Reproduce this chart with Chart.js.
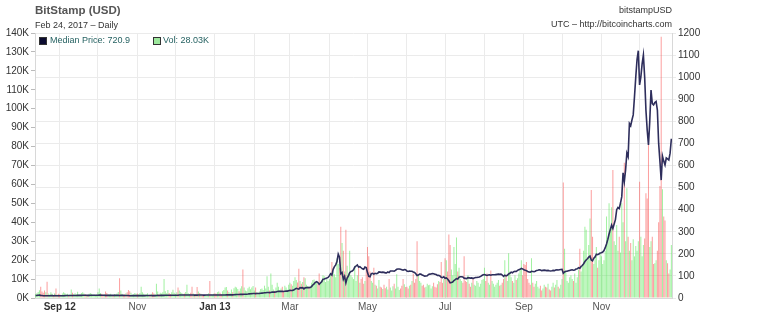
<!DOCTYPE html>
<html lang="en">
<head>
  <meta charset="UTF-8">
  <title>BitStamp (USD)</title>
  <style>
    html, body {
      margin: 0;
      padding: 0;
      background: #fff;
    }
    body {
      font-family: "Liberation Sans", Arial, sans-serif;
    }
    .wrap {
      position: relative;
      width: 768px;
      height: 318px;
    }
    canvas {
      position: absolute;
      left: 0;
      top: 0;
    }
    .t {
      position: absolute;
      white-space: nowrap;
      line-height: 1;
      z-index: 2;
    }
    .sw {
      position: absolute;
      width: 6px;
      height: 6px;
      border: 1px solid #333;
      z-index: 2;
    }
  </style>
</head>
<body>
  <div class="wrap">
    <canvas id="chart" width="768" height="318"></canvas>
    <div class="t" style="left:35px; top:5px; font-size:11.5px; font-weight:bold; color:#555;">BitStamp (USD)</div>
    <div class="t" style="left:35px; top:21px; font-size:9px; color:#333;">Feb 24, 2017 – Daily</div>
    <div class="t" style="right:96px; top:6px; font-size:9px; color:#333;">bitstampUSD</div>
    <div class="t" style="right:96px; top:20px; font-size:9px; color:#333;">UTC – http://bitcoincharts.com</div>
    <div class="sw" style="left:39px; top:37px; background:#0c0c30;"></div>
    <div class="t" id="legPrice" style="left:50px; top:36px; font-size:9px; color:#266262;"></div>
    <div class="sw" style="left:153px; top:37px; background:#9de89d;"></div>
    <div class="t" id="legVol" style="left:163px; top:36px; font-size:9px; color:#266262;"></div>
  </div>

  <script src="https://cdn.jsdelivr.net/npm/chart.js@4.4.1/dist/chart.umd.min.js"></script>
  <script>
    // daily series, first day 2012-08-13, last day 2013-12-26
    const startDate = '2012-08-13';

    // median price, USD
    const price = [
      // Aug 2012 (from 13th)
      11.5, 11.7, 12.2, 13.0, 12.0, 11.5, 10.5, 10.0, 10.4, 9.9, 10.2, 10.5, 10.6, 10.8, 10.5, 10.6, 10.3, 10.5, 10.2,
      // Sep
      10.1, 10.2, 10.4, 10.5, 10.9, 11.0, 11.1, 11.0, 11.0, 11.3, 11.2, 11.3, 11.3, 11.5, 11.8, 11.9, 11.9, 12.1, 12.3, 12.3, 12.2, 12.2, 12.1, 12.1, 12.2, 12.3, 12.3, 12.4, 12.4, 12.4,
      // Oct
      12.5, 12.8, 12.9, 12.7, 12.6, 12.6, 11.9, 11.8, 11.8, 12.0, 12.0, 12.0, 11.8, 11.8, 11.8, 11.8, 11.9, 11.4, 11.7, 11.8, 11.7, 11.6, 11.6, 11.3, 11.0, 10.4, 10.5, 10.7, 10.9, 10.9, 11.2,
      // Nov
      10.6, 10.6, 10.6, 10.8, 10.8, 10.8, 10.9, 11.0, 11.0, 11.1, 11.0, 11.0, 10.9, 10.8, 10.9, 11.6, 11.8, 11.6, 11.7, 11.7, 11.7, 12.1, 12.2, 12.2, 12.4, 12.3, 12.2, 12.4, 12.5, 12.6,
      // Dec
      12.6, 12.6, 12.5, 13.3, 13.3, 13.4, 13.5, 13.3, 13.4, 13.6, 13.6, 13.6, 13.5, 13.3, 13.3, 13.2, 13.3, 13.2, 13.6, 13.5, 13.5, 13.4, 13.2, 13.2, 13.3, 13.4, 13.4, 13.3, 13.4, 13.4, 13.5,
      // Jan 2013
      13.4, 13.3, 13.4, 13.5, 13.4, 13.3, 13.5, 13.6, 13.9, 14.2, 14.1, 14.2, 14.2, 14.3, 14.2, 14.6, 15.3, 15.6, 15.8, 15.7, 16.5, 17.2, 16.6, 17.0, 17.1, 17.2, 17.8, 18.8, 19.2, 19.6, 20.4,
      // Feb
      20.4, 19.7, 20.5, 20.5, 20.7, 21.5, 22.1, 22.8, 23.7, 23.9, 24.6, 25.2, 24.4, 25.2, 26.8, 27.2, 26.6, 26.9, 29.4, 29.9, 29.9, 30.2, 29.9, 29.5, 30.4, 31.0, 31.2, 33.2,
      // Mar
      34.5, 34.3, 34.5, 36.1, 40.3, 44.0, 42.0, 40.5, 46.8, 46.0, 46.9, 41.5, 46.0, 46.9, 47.1, 47.0, 47.4, 51.6, 59.1, 64.0, 71.0, 74.0, 70.0, 62.0, 68.0, 74.0, 85.0, 86.0, 88.0, 90.0, 93.0,
      // Apr
      100, 110, 104, 130, 142, 150, 165, 199, 185, 110, 115, 85, 98, 68, 90, 100, 115, 120, 122, 128, 140, 145, 150, 140, 142, 137, 132, 130, 140, 138,
      // May
      115, 98, 96, 110, 112, 108, 112, 110, 112, 118, 117, 116, 117, 116, 114, 114, 118, 115, 122, 122, 122, 121, 125, 130, 131, 131, 130, 128, 126, 129, 128,
      // Jun
      122, 120, 122, 121, 121, 118, 116, 110, 102, 104, 108, 108, 104, 102, 99, 100, 101, 107, 108, 109, 111, 110, 108, 106, 102, 103, 100, 94, 92, 96,
      // Jul
      89, 91, 86, 78, 69, 70, 72, 79, 83, 88, 86, 94, 96, 96, 95, 90, 89, 88, 92, 91, 90, 91, 88, 91, 93, 93, 94, 95, 98, 102, 105,
      // Aug
      106, 104, 102, 104, 105, 103, 105, 105, 105, 106, 107, 108, 107, 108, 104, 98, 103, 100, 103, 109, 112, 117, 114, 119, 121, 120, 125, 128, 130, 134, 132,
      // Sep
      128, 126, 124, 120, 118, 117, 121, 120, 119, 121, 125, 126, 128, 127, 124, 125, 126, 125, 124, 125, 123, 122, 123, 125, 124, 127, 128, 127, 128, 129,
      // Oct
      130, 112, 118, 121, 121, 123, 125, 127, 128, 126, 127, 131, 132, 137, 135, 143, 147, 155, 165, 172, 178, 185, 190, 172, 168, 180, 186, 198, 196, 199, 204,
      // Nov
      205, 208, 215, 228, 245, 265, 290, 310, 330, 315, 335, 355, 400, 410, 405, 430, 459, 567, 527, 580, 656, 640, 790, 780, 806, 829, 912, 1000, 1080, 1120,
      // Dec (to 26th)
      965, 1000, 1060, 1100, 1000, 850, 760, 693, 800, 942, 880, 874, 885, 890, 851, 700, 620, 534, 643, 620, 602, 634, 630, 625, 656, 720.9
    ];

    // volume, thousands of BTC
    const volume = [
      // Aug 2012 (from 13th)
      2.1, 2.5, 3.2, 4.1, 6.0, 3.5, 2.8, 4.0, 3.1, 8.6, 2.4, 1.8, 3.0, 2.2, 1.6, 2.5, 5.0, 1.9, 2.3,
      // Sep
      2.0, 1.6, 2.4, 3.1, 2.6, 1.9, 2.2, 1.5, 1.8, 4.5, 2.8, 2.1, 2.5, 2.0, 3.3, 1.7, 1.9, 2.6, 3.0, 2.4, 2.0, 1.5, 1.6, 2.2, 2.7, 2.3, 1.9, 1.8, 1.4, 1.7,
      // Oct
      3.0, 5.0, 2.6, 2.2, 1.8, 2.0, 3.4, 2.7, 2.0, 1.9, 2.3, 1.6, 1.5, 2.1, 1.8, 2.4, 3.2, 10.5, 4.0, 2.2, 1.6, 2.0, 2.5, 3.1, 4.2, 3.6, 2.8, 1.7, 2.0, 2.6, 2.3,
      // Nov
      2.4, 2.0, 2.6, 6.0, 3.1, 2.2, 1.8, 2.0, 2.5, 1.6, 1.9, 2.2, 3.0, 2.4, 2.0, 7.5, 3.5, 2.1, 2.8, 2.4, 3.0, 10.0, 3.6, 2.5, 4.2, 2.6, 2.1, 3.0, 4.4, 2.8,
      // Dec
      2.2, 3.0, 5.5, 4.0, 3.1, 2.6, 2.0, 2.4, 3.2, 7.0, 2.5, 2.1, 2.8, 6.0, 2.4, 1.8, 2.0, 5.8, 3.4, 2.6, 2.2, 1.7, 1.5, 1.4, 1.6, 2.0, 2.5, 9.0, 1.8, 1.6, 2.2,
      // Jan 2013
      2.5, 2.2, 3.0, 3.4, 2.8, 2.0, 3.6, 4.2, 5.5, 5.8, 4.0, 3.2, 2.6, 4.5, 3.0, 5.2, 6.0, 5.5, 4.8, 3.6, 5.0, 6.2, 15.0, 5.5, 4.0, 3.6, 5.2, 6.0, 4.6, 5.5, 6.3,
      // Feb
      4.0, 5.5, 3.2, 2.8, 3.5, 4.8, 5.0, 4.2, 6.5, 5.0, 11.5, 6.0, 4.0, 13.0, 7.0, 4.5, 3.8, 5.5, 8.0, 6.0, 4.2, 5.0, 6.0, 3.8, 6.5, 5.5, 4.4, 7.0,
      // Mar
      8.0, 7.2, 6.5, 9.0, 11.0, 9.5, 8.2, 15.5, 9.0, 7.5, 8.4, 11.0, 10.5, 7.0, 6.4, 6.0, 6.5, 8.0, 9.5, 9.8, 8.5, 9.0, 7.2, 13.0, 8.0, 9.5, 12.0, 11.5, 8.5, 10.0, 9.0,
      // Apr
      10.0, 12.0, 19.0, 14.0, 12.5, 11.0, 21.0, 18.0, 16.0, 37.7, 29.0, 25.0, 14.0, 36.0, 17.0, 13.0, 25.0, 12.0, 11.0, 10.0, 17.0, 9.0, 12.0, 16.0, 8.0, 10.0, 11.0, 7.5, 9.0, 15.0,
      // May
      27.0, 22.0, 14.0, 9.0, 8.0, 16.0, 7.0, 6.5, 5.0, 9.5, 6.0, 5.5, 4.8, 7.0, 5.2, 6.0, 4.5, 10.0, 5.5, 4.0, 6.2, 7.5, 5.0, 12.5, 6.0, 4.2, 5.0, 6.5, 10.0, 7.2, 5.8,
      // Jun
      6.0, 5.0, 6.5, 7.0, 9.0, 13.0, 8.0, 10.0, 30.0, 12.0, 9.0, 8.0, 6.5, 7.0, 5.5, 6.0, 7.5, 6.8, 7.0, 5.0, 6.2, 8.0, 6.0, 5.5, 7.2, 9.0, 8.5, 19.0, 8.0, 10.0,
      // Jul
      21.0, 20.0, 14.0, 33.5, 28.0, 15.0, 12.0, 27.0, 18.0, 32.0, 14.0, 16.0, 10.0, 9.0, 8.0, 22.0, 9.0, 8.5, 12.0, 7.5, 6.0, 8.0, 10.0, 7.0, 6.5, 9.0, 8.0, 6.0, 7.5, 9.5, 10.0,
      // Aug
      16.0, 9.0, 13.0, 8.0, 7.0, 14.5, 9.0, 7.5, 6.0, 7.0, 8.0, 9.5, 6.5, 7.0, 8.0, 10.0, 20.0, 12.0, 9.0, 23.6, 14.0, 11.0, 9.0, 8.0, 12.0, 9.5, 10.5, 13.0, 15.0, 20.0, 12.0,
      // Sep
      18.0, 17.5, 19.0, 10.0, 8.0, 7.0, 21.0, 8.0, 6.0, 7.5, 9.0, 6.0, 5.0, 6.5, 4.0, 5.0, 7.0, 6.0, 5.5, 7.5, 4.5, 4.0, 6.0, 8.0, 5.5, 7.0, 9.5, 6.0, 5.0, 7.0,
      // Oct
      10, 61, 26, 14, 9, 8, 11, 12, 10, 9, 13, 8, 11, 15, 26, 14, 18, 25, 37.7, 36, 20, 28, 42, 57, 32.4, 18, 22, 27, 16, 20, 24,
      // Nov
      22, 18, 20, 25, 43, 30, 50, 35, 48, 67.6, 30, 28, 38.6, 25, 32.4, 24, 50, 40, 71.5, 30, 58, 32.4, 25, 29, 20, 31, 22, 27.5, 25, 30,
      // Dec (to 26th)
      61.4, 32.4, 22, 28, 31.5, 55.3, 52.6, 80.8, 27, 30, 32.4, 18, 18.3, 20, 25, 40, 59.2, 138, 57.4, 43, 41, 20, 18.3, 13, 15, 28.03
    ];

    // x axis: a grid line on every month start, a label on every other one
    const monthStarts = ['2012-09-01', '2012-10-01', '2012-11-01', '2012-12-01', '2013-01-01', '2013-02-01',
      '2013-03-01', '2013-04-01', '2013-05-01', '2013-06-01', '2013-07-01', '2013-08-01',
      '2013-09-01', '2013-10-01', '2013-11-01', '2013-12-01'];
    const monthLabels = ['Sep 12', '', 'Nov', '', 'Jan 13', '', 'Mar', '', 'May', '', 'Jul', '', 'Sep', '', 'Nov', ''];
    const boldLabels = ['Sep 12', 'Jan 13'];

    function dayNum(s) {
      return Date.parse(s + 'T00:00:00Z') / 86400000;
    }

    const day0 = dayNum(startDate);
    const tickDays = monthStarts.map(dayNum);

    const pricePts = price.map((p, i) => ({ x: day0 + i, y: p }));
    const volPts = volume.map((v, i) => ({ x: day0 + i, y: v }));
    const barColors = volume.map((v, i) =>
      (i === 0 || price[i] >= price[i - 1]) ? 'rgba(85, 230, 85, 0.55)' : 'rgba(250, 80, 80, 0.55)');

    document.getElementById('legPrice').textContent = 'Median Price: ' + price[price.length - 1];
    document.getElementById('legVol').textContent = 'Vol: ' + volume[volume.length - 1].toFixed(2) + 'K';

    const tickFont = { family: 'Liberation Sans', size: 10 };

    const ctx = document.getElementById('chart').getContext('2d');
    new Chart(ctx, {
      type: 'bar',
      data: {
        datasets: [{
          type: 'line',
          label: 'Median Price',
          data: pricePts,
          yAxisID: 'yPrice',
          borderColor: '#2e2e5c',
          borderWidth: 1.6,
          pointRadius: 0,
          tension: 0
        }, {
          type: 'bar',
          label: 'Vol',
          data: volPts,
          yAxisID: 'yVol',
          backgroundColor: barColors,
          borderWidth: 0,
          categoryPercentage: 0.8,
          barPercentage: 1.0
        }]
      },
      options: {
        responsive: false,
        animation: false,
        layout: { padding: { top: 33, left: 0, right: 0, bottom: 0 } },
        plugins: {
          legend: { display: false },
          tooltip: { enabled: false }
        },
        scales: {
          x: {
            type: 'linear',
            min: day0 - 0.5,
            max: day0 + price.length - 0.5,
            offset: false,
            afterBuildTicks: axis => {
              axis.ticks = tickDays.map(v => ({ value: v }));
            },
            afterFit: axis => { axis.height = 20; },
            ticks: {
              autoSkip: false,
              maxRotation: 0,
              padding: 3,
              callback: (value, index) => monthLabels[index],
              color: c => boldLabels.includes(monthLabels[c.index]) ? '#333' : '#555',
              font: c => ({
                family: 'Liberation Sans',
                size: 10,
                weight: boldLabels.includes(monthLabels[c.index]) ? 'bold' : 'normal'
              })
            },
            grid: { color: '#ebebeb', drawTicks: false, offset: false },
            border: { color: '#d8d8d8' }
          },
          yVol: {
            position: 'left',
            min: 0,
            max: 140,
            afterFit: axis => { axis.width = 35; },
            ticks: {
              stepSize: 10,
              padding: 2,
              color: '#333',
              font: tickFont,
              callback: v => v + 'K'
            },
            grid: { drawOnChartArea: false, tickLength: 4, color: '#bbb' },
            border: { color: '#d8d8d8' }
          },
          yPrice: {
            position: 'right',
            min: 0,
            max: 1200,
            afterFit: axis => { axis.width = 96; },
            ticks: {
              stepSize: 100,
              padding: 2,
              color: '#333',
              font: tickFont,
              callback: v => String(v)
            },
            grid: { color: '#ebebeb', tickLength: 4 },
            border: { color: '#d8d8d8' }
          }
        }
      }
    });
  </script>
</body>
</html>
